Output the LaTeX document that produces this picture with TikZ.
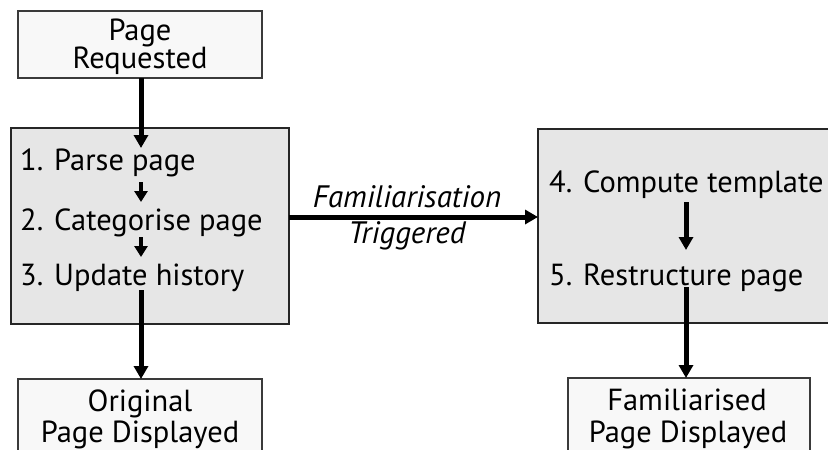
\documentclass[tikz,border=0pt]{standalone}
\usepackage{fontspec}
\setmainfont{PT Sans}
\usetikzlibrary{arrows.meta}
\definecolor{boxgray}{HTML}{E6E6E6}
\definecolor{boxwhite}{HTML}{F8F8F8}
\definecolor{edgegray}{HTML}{3A3A3A}
\tikzset{
  endbox/.style={draw=edgegray, line width=1.2pt, fill=boxwhite},
  procbox/.style={draw=black!85, line width=1.2pt, fill=boxgray},
  steptext/.style={anchor=base west, inner sep=0pt, font=\fontsize{30.5}{35}\selectfont},
  boxtext/.style={anchor=base, inner sep=0pt, font=\fontsize{30.5}{35}\selectfont},
  lbltext/.style={anchor=base, inner sep=0pt, font=\fontsize{31}{36}\selectfont\itshape},
  bigarr/.style={line width=5pt, -{Triangle[width=14pt,length=13pt]}},
  smallarr/.style={line width=3.5pt, -{Triangle[width=13pt,length=11pt]}}
}
\begin{document}
\begin{tikzpicture}[x=1pt,y=-1pt]
\useasboundingbox (0,0) rectangle (828,450);
\begin{scope}
\clip (0,0) rectangle (828,450);
\fill[white] (0,0) rectangle (828,450);
\draw[endbox] (18,11) rectangle (262,78);
\draw[procbox] (11,128) rectangle (289,324);
\draw[procbox] (538,129) rectangle (860,323);
\draw[endbox] (18,379) rectangle (262,480);
\draw[endbox] (568,378) rectangle (810,480);
% texts
\node[boxtext] (t1) at (140,40) {Page};
\node[boxtext] (t2) at (140,68) {Requested};
\node[steptext] (s1) at (20,170) {1. Parse page};
\node[steptext] (s2) at (20,230) {2. Categorise page};
\node[steptext] (s3) at (20,285) {3. Update history};
\node[steptext] (s4) at (549,192) {4. Compute template};
\node[steptext] (s5) at (549,285) {5. Restructure page};
\node[lbltext] (l1) at (407,207) {Familiarisation};
\node[lbltext] (l2) at (407,243) {Triggered};
\node[boxtext] (o1) at (140,411) {Original};
\node[boxtext] (o2) at (140,442) {Page Displayed};
\node[boxtext] (f1) at (687,410) {Familiarised};
\node[boxtext] (f2) at (688,442) {Page Displayed};
\end{scope}
% named anchors
\coordinate (Abot) at (141,78);
\coordinate (tip1) at (141,148);
\coordinate (Bout) at (289,217);
\coordinate (Cin) at (538,217);
\coordinate (Dtop) at (141,379);
\coordinate (Etop) at (686,378);
\coordinate (a12s) at (141,182);
\coordinate (a12e) at (141,202);
\coordinate (a23s) at (141,237);
\coordinate (a23e) at (141,257);
\coordinate (a3s) at (141,290);
\coordinate (a45s) at (686,202);
\coordinate (a45e) at (686,250);
\coordinate (a5s) at (686,287);
% arrows
\draw[bigarr] (Abot) -- (tip1);
\draw[smallarr] (a12s) -- (a12e);
\draw[smallarr] (a23s) -- (a23e);
\draw[bigarr] (a3s) -- (Dtop);
\draw[bigarr] (Bout) -- (Cin);
\draw[bigarr] (a45s) -- (a45e);
\draw[bigarr] (a5s) -- (Etop);
\end{tikzpicture}
\end{document}
